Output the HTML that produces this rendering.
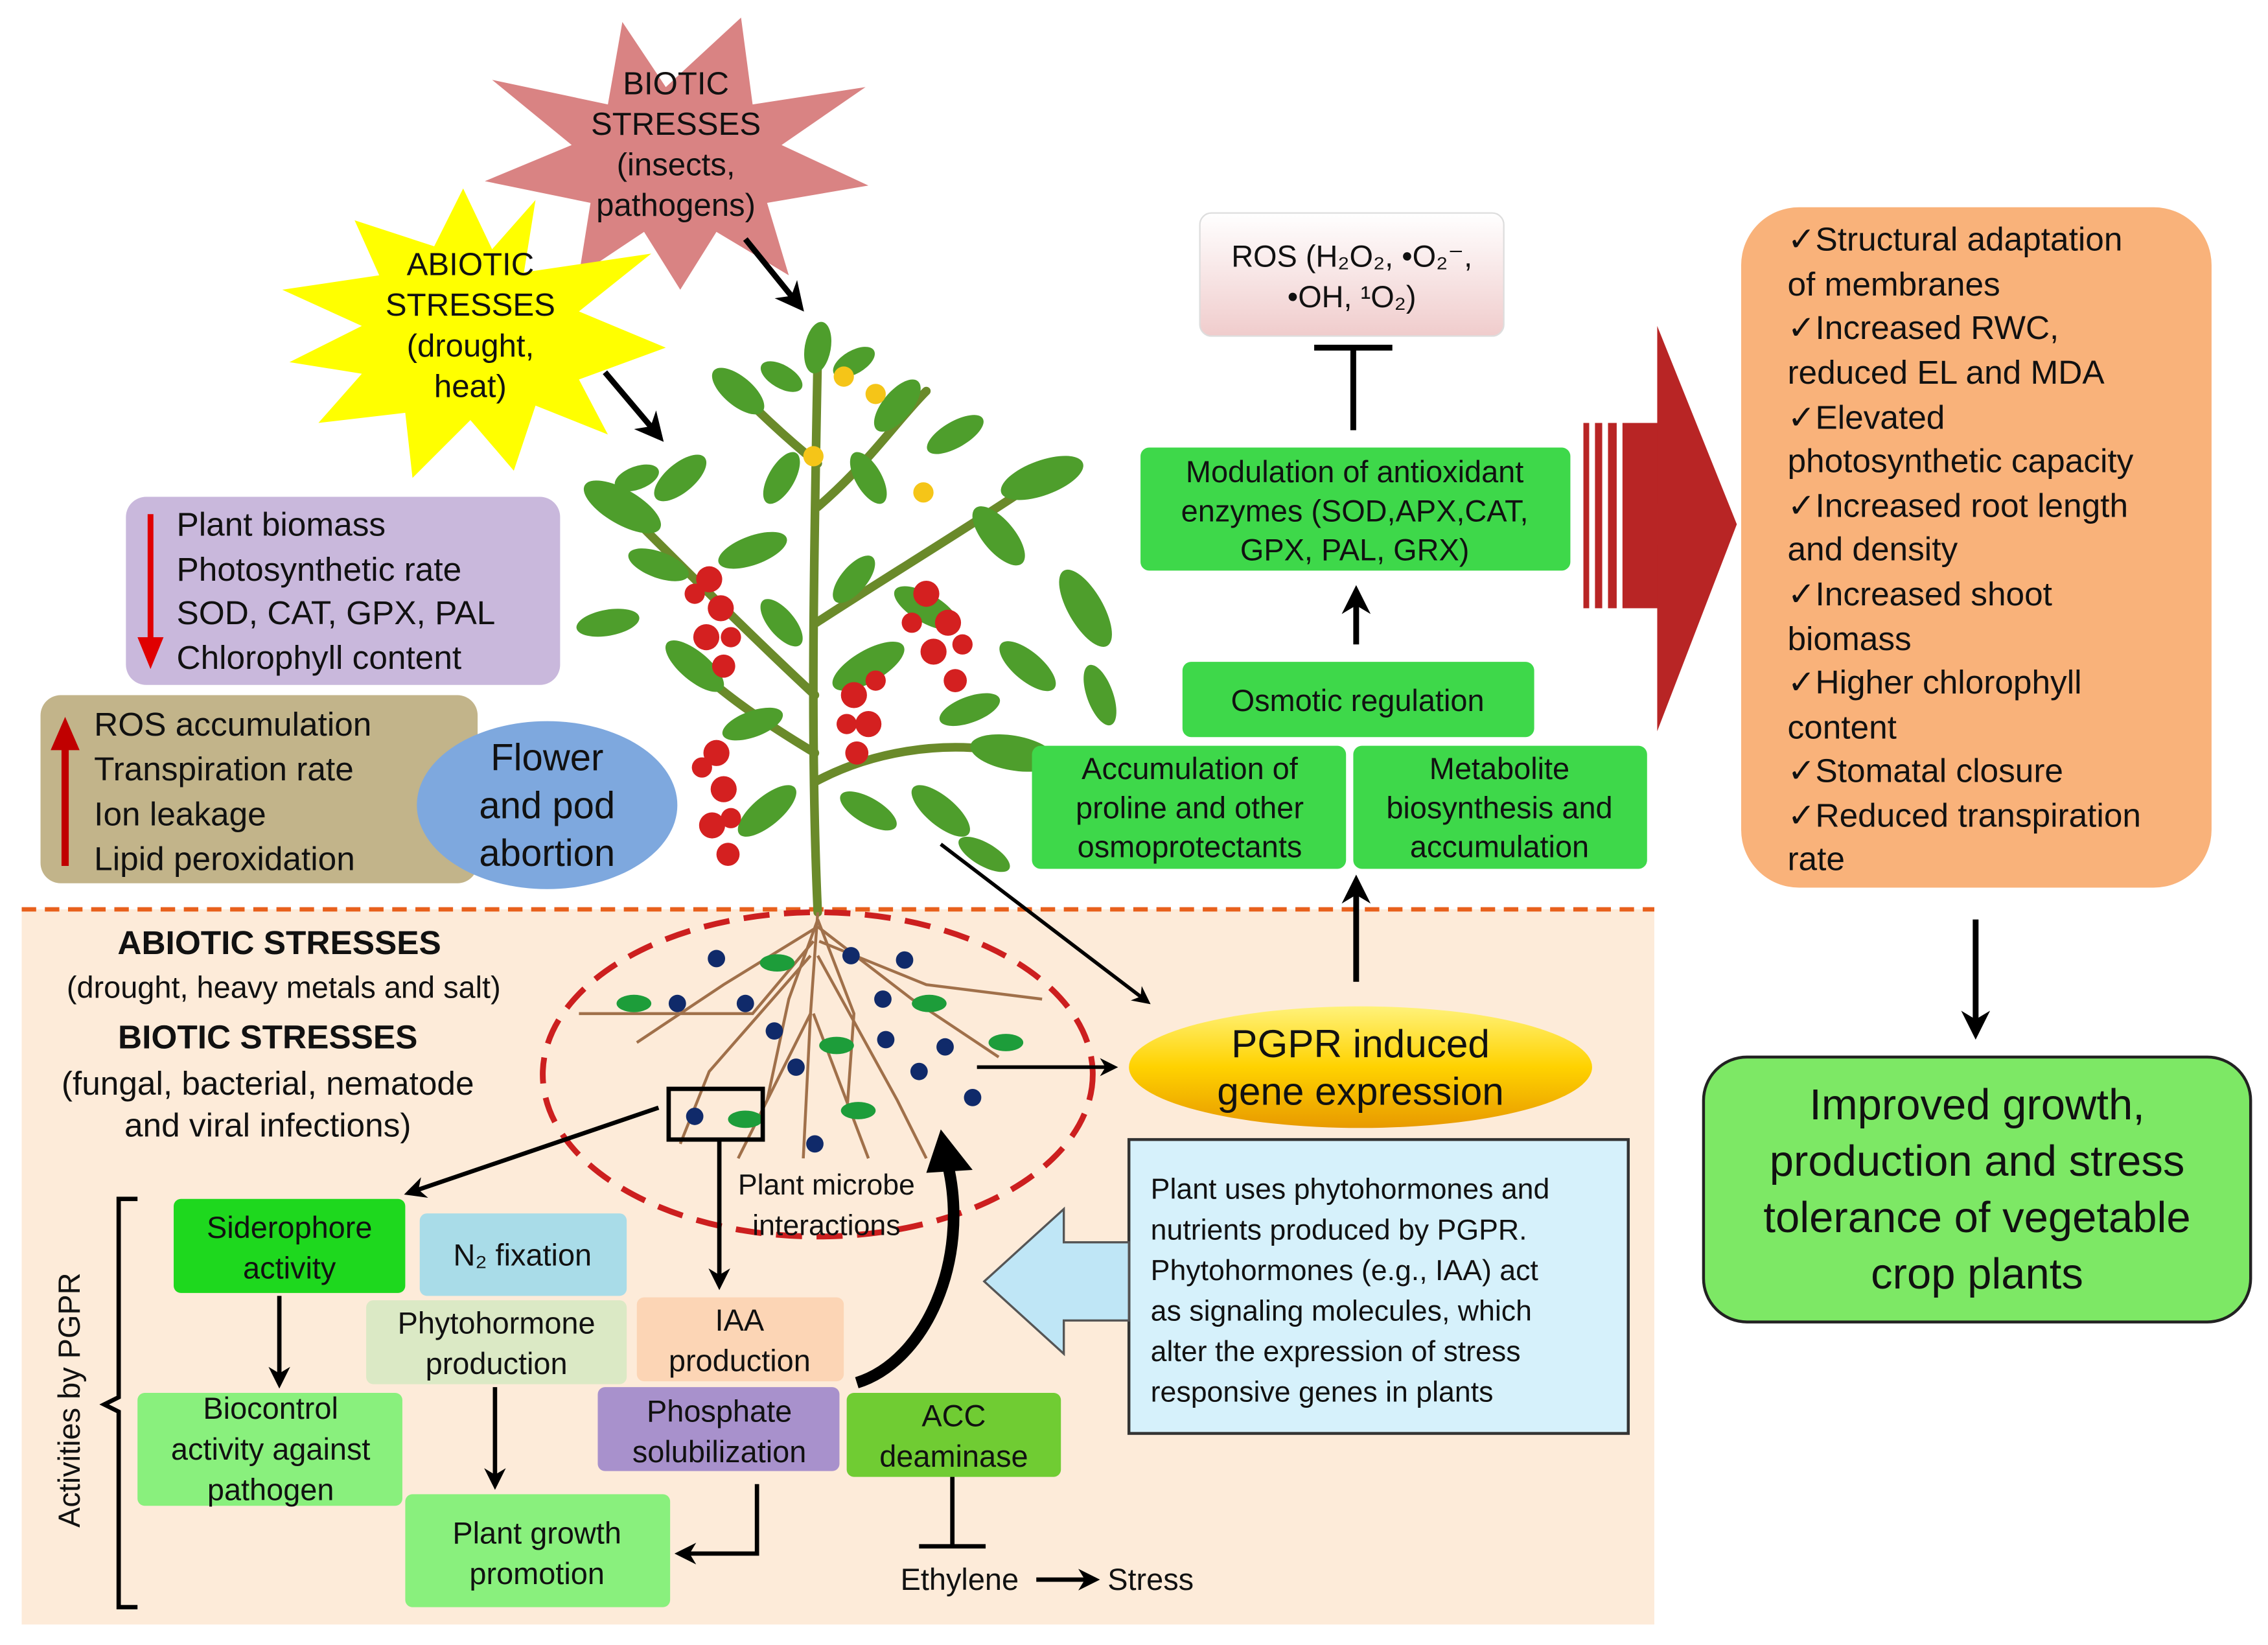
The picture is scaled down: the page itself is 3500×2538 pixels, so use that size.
<!DOCTYPE html>
<html><head><meta charset="utf-8"><style>
html,body{margin:0;padding:0;background:#fff}
svg{display:block}
text{font-family:"Liberation Sans",Arial,sans-serif;fill:#111}
</style></head><body>
<svg width="3500" height="2538" viewBox="0 0 1567 1136" xmlns="http://www.w3.org/2000/svg">
<defs>
<marker id="ah" viewBox="0 0 10 10" refX="8" refY="5" markerWidth="5" markerHeight="5" orient="auto"><path d="M0,0 L10,5 L0,10 L3,5z" fill="#000"/></marker>
<linearGradient id="yg" x1="0" y1="0" x2="0" y2="1"><stop offset="0" stop-color="#fff27a"/><stop offset="0.5" stop-color="#ffd200"/><stop offset="1" stop-color="#e89a00"/></linearGradient>
<linearGradient id="pg" x1="0" y1="0" x2="0" y2="1"><stop offset="0" stop-color="#fff"/><stop offset="1" stop-color="#f0cccc"/></linearGradient>
</defs>
<rect x="15" y="628" width="1128" height="494" fill="#fdebd9"/>
<line x1="15" y1="628" x2="1143" y2="628" stroke="#e8601c" stroke-width="3" stroke-dasharray="10,6"/>

<polygon fill="#d98383" points="512,12 520,72 598,60 540,100 600,128 530,140 545,190 495,160 470,200 445,160 400,190 408,140 335,125 395,100 340,55 420,72 430,15 460,60"/>
<text font-size="22" text-anchor="middle"><tspan x="467" y="65">BIOTIC</tspan><tspan x="467" y="93">STRESSES</tspan><tspan x="467" y="121">(insects,</tspan><tspan x="467" y="149">pathogens)</tspan></text>
<polygon fill="#ffff00" points="370,138 362,188 450,175 400,215 460,240 400,262 420,300 370,280 355,325 325,290 285,330 280,285 220,292 250,258 200,250 250,225 195,200 262,190 245,152 300,170 320,130 340,172"/>
<text font-size="22" text-anchor="middle"><tspan x="325" y="190">ABIOTIC</tspan><tspan x="325" y="218">STRESSES</tspan><tspan x="325" y="246">(drought,</tspan><tspan x="325" y="274">heat)</tspan></text>
<line x1="515" y1="165" x2="553" y2="212" stroke="#000" stroke-width="4" marker-end="url(#ah)"/>
<line x1="418" y1="257" x2="456" y2="302" stroke="#000" stroke-width="4" marker-end="url(#ah)"/>

<g stroke="#6a8a2a" stroke-width="6" fill="none" stroke-linecap="round">
<path d="M565,630 C560,520 562,400 565,245"/>
<path d="M563,480 C520,440 480,400 430,350"/>
<path d="M564,430 C610,400 660,370 720,330"/>
<path d="M563,540 C600,520 650,510 700,520"/>
<path d="M563,520 C530,500 500,480 480,460"/>
<path d="M565,350 C600,320 620,290 640,270"/>
<path d="M565,320 C540,300 520,280 510,270"/>
</g>
<g fill="#4e9e2c">
<ellipse cx="430" cy="350" rx="30" ry="12" transform="rotate(30 430 350)"/>
<ellipse cx="470" cy="330" rx="22" ry="10" transform="rotate(-40 470 330)"/>
<ellipse cx="720" cy="330" rx="30" ry="12" transform="rotate(-20 720 330)"/>
<ellipse cx="690" cy="370" rx="25" ry="11" transform="rotate(50 690 370)"/>
<ellipse cx="750" cy="420" rx="30" ry="12" transform="rotate(60 750 420)"/>
<ellipse cx="700" cy="520" rx="30" ry="12" transform="rotate(10 700 520)"/>
<ellipse cx="650" cy="560" rx="25" ry="10" transform="rotate(40 650 560)"/>
<ellipse cx="480" cy="460" rx="25" ry="10" transform="rotate(40 480 460)"/>
<ellipse cx="530" cy="560" rx="25" ry="10" transform="rotate(-40 530 560)"/>
<ellipse cx="600" cy="460" rx="28" ry="11" transform="rotate(-30 600 460)"/>
<ellipse cx="620" cy="280" rx="22" ry="10" transform="rotate(-50 620 280)"/>
<ellipse cx="510" cy="270" rx="22" ry="10" transform="rotate(40 510 270)"/>
<ellipse cx="565" cy="240" rx="18" ry="9" transform="rotate(-80 565 240)"/>
<ellipse cx="520" cy="380" rx="25" ry="10" transform="rotate(-20 520 380)"/>
<ellipse cx="640" cy="420" rx="25" ry="10" transform="rotate(30 640 420)"/>
<ellipse cx="540" cy="330" rx="20" ry="9" transform="rotate(-60 540 330)"/>
<ellipse cx="600" cy="330" rx="20" ry="9" transform="rotate(60 600 330)"/>
<ellipse cx="660" cy="300" rx="22" ry="9" transform="rotate(-30 660 300)"/>
<ellipse cx="455" cy="390" rx="22" ry="9" transform="rotate(20 455 390)"/>
<ellipse cx="420" cy="430" rx="22" ry="9" transform="rotate(-10 420 430)"/>
<ellipse cx="710" cy="460" rx="24" ry="10" transform="rotate(40 710 460)"/>
<ellipse cx="760" cy="480" rx="22" ry="9" transform="rotate(70 760 480)"/>
<ellipse cx="600" cy="560" rx="22" ry="9" transform="rotate(30 600 560)"/>
<ellipse cx="520" cy="500" rx="22" ry="9" transform="rotate(-20 520 500)"/>
<ellipse cx="680" cy="590" rx="20" ry="8" transform="rotate(30 680 590)"/>
<ellipse cx="540" cy="430" rx="20" ry="9" transform="rotate(50 540 430)"/>
<ellipse cx="590" cy="400" rx="20" ry="9" transform="rotate(-50 590 400)"/>
<ellipse cx="540" cy="260" rx="16" ry="8" transform="rotate(30 540 260)"/>
<ellipse cx="590" cy="250" rx="16" ry="8" transform="rotate(-30 590 250)"/>
<ellipse cx="670" cy="490" rx="22" ry="9" transform="rotate(-20 670 490)"/>
<ellipse cx="440" cy="330" rx="16" ry="8" transform="rotate(-20 440 330)"/>
</g>
<g fill="#d42020">
<circle cx="490" cy="400" r="9"/><circle cx="498" cy="420" r="9"/><circle cx="488" cy="440" r="9"/><circle cx="500" cy="460" r="8"/>
<circle cx="495" cy="520" r="9"/><circle cx="500" cy="545" r="9"/><circle cx="492" cy="570" r="9"/><circle cx="503" cy="590" r="8"/>
<circle cx="640" cy="410" r="9"/><circle cx="655" cy="430" r="9"/><circle cx="645" cy="450" r="9"/><circle cx="660" cy="470" r="8"/>
<circle cx="590" cy="480" r="9"/><circle cx="600" cy="500" r="9"/><circle cx="592" cy="520" r="8"/>
<circle cx="480" cy="410" r="7"/><circle cx="505" cy="440" r="7"/><circle cx="485" cy="530" r="7"/><circle cx="505" cy="565" r="7"/><circle cx="630" cy="430" r="7"/><circle cx="665" cy="445" r="7"/><circle cx="585" cy="500" r="7"/><circle cx="605" cy="470" r="7"/>
</g>
<g fill="#f5c518"><circle cx="583" cy="260" r="7"/><circle cx="605" cy="272" r="7"/><circle cx="562" cy="315" r="7"/><circle cx="638" cy="340" r="7"/></g>

<rect x="87" y="343" width="300" height="130" rx="14" fill="#c9b8dc"/>
<text font-size="23"><tspan x="122" y="370">Plant biomass</tspan><tspan x="122" y="401">Photosynthetic rate</tspan><tspan x="122" y="431">SOD, CAT, GPX, PAL</tspan><tspan x="122" y="462">Chlorophyll content</tspan></text>
<line x1="104" y1="355" x2="104" y2="445" stroke="#e00000" stroke-width="4"/><polygon points="95,440 113,440 104,462" fill="#e00000"/>
<rect x="28" y="480" width="302" height="130" rx="14" fill="#c2b48a"/>
<text font-size="23"><tspan x="65" y="508">ROS accumulation</tspan><tspan x="65" y="539">Transpiration rate</tspan><tspan x="65" y="570">Ion leakage</tspan><tspan x="65" y="601">Lipid peroxidation</tspan></text>
<line x1="45" y1="515" x2="45" y2="598" stroke="#c00000" stroke-width="5"/><polygon points="35,518 55,518 45,495" fill="#c00000"/>
<ellipse cx="378" cy="556" rx="90" ry="58" fill="#7ea8de"/>
<text font-size="26" text-anchor="middle"><tspan x="378" y="532">Flower</tspan><tspan x="378" y="565">and pod</tspan><tspan x="378" y="598">abortion</tspan></text>

<rect x="829" y="147" width="210" height="85" rx="8" fill="url(#pg)" stroke="#ddd"/>
<text font-size="21" text-anchor="middle"><tspan x="934" y="184">ROS (H₂O₂, •O₂⁻,</tspan><tspan x="934" y="212">•OH, ¹O₂)</tspan></text>
<line x1="935" y1="240" x2="935" y2="297" stroke="#000" stroke-width="4"/><line x1="908" y1="240" x2="962" y2="240" stroke="#000" stroke-width="4"/>
<rect x="788" y="309" width="297" height="85" rx="6" fill="#3ed84a"/>
<text font-size="21" text-anchor="middle"><tspan x="936" y="333">Modulation of antioxidant</tspan><tspan x="936" y="360">enzymes (SOD,APX,CAT,</tspan><tspan x="936" y="387">GPX, PAL, GRX)</tspan></text>
<line x1="937" y1="445" x2="937" y2="408" stroke="#000" stroke-width="4" marker-end="url(#ah)"/>
<rect x="817" y="457" width="243" height="52" rx="6" fill="#3ed84a"/>
<text x="938" y="491" font-size="21" text-anchor="middle">Osmotic regulation</text>
<rect x="713" y="515" width="217" height="85" rx="6" fill="#3ed84a"/>
<text font-size="21" text-anchor="middle"><tspan x="822" y="538">Accumulation of</tspan><tspan x="822" y="565">proline and other</tspan><tspan x="822" y="592">osmoprotectants</tspan></text>
<rect x="935" y="515" width="203" height="85" rx="6" fill="#3ed84a"/>
<text font-size="21" text-anchor="middle"><tspan x="1036" y="538">Metabolite</tspan><tspan x="1036" y="565">biosynthesis and</tspan><tspan x="1036" y="592">accumulation</tspan></text>
<line x1="937" y1="678" x2="937" y2="608" stroke="#000" stroke-width="4" marker-end="url(#ah)"/>

<g fill="#b82525"><rect x="1094" y="292" width="4" height="128"/><rect x="1102" y="292" width="5" height="128"/><rect x="1111" y="292" width="6" height="128"/><rect x="1121" y="292" width="26" height="128"/><polygon points="1145,225 1200,362 1145,505"/></g>

<rect x="1203" y="143" width="325" height="470" rx="40" fill="#f9b27a"/>
<text font-size="23"><tspan x="1235" y="173">✓Structural adaptation</tspan><tspan x="1235" y="204">of membranes</tspan><tspan x="1235" y="234">✓Increased  RWC,</tspan><tspan x="1235" y="265">reduced EL and MDA</tspan><tspan x="1235" y="296">✓Elevated</tspan><tspan x="1235" y="326">photosynthetic capacity</tspan><tspan x="1235" y="357">✓Increased root length</tspan><tspan x="1235" y="387">and density</tspan><tspan x="1235" y="418">✓Increased shoot</tspan><tspan x="1235" y="449">biomass</tspan><tspan x="1235" y="479">✓Higher chlorophyll</tspan><tspan x="1235" y="510">content</tspan><tspan x="1235" y="540">✓Stomatal closure</tspan><tspan x="1235" y="571">✓Reduced transpiration</tspan><tspan x="1235" y="601">rate</tspan></text>
<line x1="1365" y1="635" x2="1365" y2="714" stroke="#000" stroke-width="4" marker-end="url(#ah)"/>
<rect x="1177" y="730" width="378" height="183" rx="30" fill="#7de865" stroke="#222" stroke-width="2"/>
<text font-size="30" text-anchor="middle"><tspan x="1366" y="773">Improved growth,</tspan><tspan x="1366" y="812">production and stress</tspan><tspan x="1366" y="851">tolerance of vegetable</tspan><tspan x="1366" y="890">crop plants</tspan></text>

<text x="193" y="659" font-size="23" font-weight="bold" text-anchor="middle">ABIOTIC STRESSES</text>
<text x="196" y="689" font-size="21" text-anchor="middle">(drought, heavy metals and salt)</text>
<text x="185" y="724" font-size="23" font-weight="bold" text-anchor="middle">BIOTIC STRESSES</text>
<text font-size="23" text-anchor="middle"><tspan x="185" y="756">(fungal, bacterial, nematode</tspan><tspan x="185" y="785">and viral infections)</tspan></text>

<g stroke="#a0704a" stroke-width="2" fill="none">
<path d="M565,630 L560,700 L555,800"/><path d="M565,640 L500,680 L440,720"/><path d="M565,640 L630,690 L690,730"/><path d="M560,660 L490,740 L470,790"/><path d="M565,660 L620,760 L640,800"/><path d="M562,650 L520,700 L400,700"/><path d="M566,650 L640,680 L720,690"/><path d="M560,700 L510,800"/><path d="M562,700 L600,800"/><path d="M565,635 L545,690 L530,760"/><path d="M565,635 L590,700 L585,770"/>
</g>
<ellipse cx="565" cy="742" rx="190" ry="112" fill="none" stroke="#cc1f1f" stroke-width="4" stroke-dasharray="18,10"/>
<g fill="#1d9d3a"><ellipse cx="537" cy="665" rx="12" ry="6"/><ellipse cx="438" cy="693" rx="12" ry="6"/><ellipse cx="642" cy="693" rx="12" ry="6"/><ellipse cx="695" cy="720" rx="12" ry="6"/><ellipse cx="578" cy="722" rx="12" ry="6"/><ellipse cx="515" cy="773" rx="12" ry="6"/><ellipse cx="593" cy="767" rx="12" ry="6"/></g>
<g fill="#102a6a"><circle cx="495" cy="662" r="6"/><circle cx="588" cy="660" r="6"/><circle cx="625" cy="663" r="6"/><circle cx="468" cy="693" r="6"/><circle cx="515" cy="693" r="6"/><circle cx="610" cy="690" r="6"/><circle cx="535" cy="712" r="6"/><circle cx="612" cy="718" r="6"/><circle cx="653" cy="723" r="6"/><circle cx="550" cy="737" r="6"/><circle cx="635" cy="740" r="6"/><circle cx="480" cy="771" r="6"/><circle cx="672" cy="758" r="6"/><circle cx="563" cy="790" r="6"/></g>
<rect x="462" y="752" width="65" height="35" fill="none" stroke="#000" stroke-width="3"/>
<text font-size="20" text-anchor="middle"><tspan x="571" y="825">Plant microbe</tspan><tspan x="571" y="853">interactions</tspan></text>

<ellipse cx="940" cy="737" rx="160" ry="42" fill="url(#yg)"/>
<text font-size="27" text-anchor="middle"><tspan x="940" y="730">PGPR induced</tspan><tspan x="940" y="763">gene expression</tspan></text>
<line x1="650" y1="583" x2="793" y2="692" stroke="#000" stroke-width="2.5" marker-end="url(#ah)"/>
<line x1="675" y1="737" x2="770" y2="737" stroke="#000" stroke-width="2.5" marker-end="url(#ah)"/>
<line x1="455" y1="765" x2="282" y2="824" stroke="#000" stroke-width="3" marker-end="url(#ah)"/>
<line x1="497" y1="787" x2="497" y2="888" stroke="#000" stroke-width="3" marker-end="url(#ah)"/>
<path d="M592,955 C640,940 670,870 655,805" fill="none" stroke="#000" stroke-width="8"/>
<polygon points="640,810 650,780 672,808" fill="#000"/>

<rect x="780" y="787" width="345" height="203" fill="#d6f1fb" stroke="#333" stroke-width="2"/>
<text font-size="20"><tspan x="795" y="828">Plant uses phytohormones and</tspan><tspan x="795" y="856">nutrients produced by PGPR.</tspan><tspan x="795" y="884">Phytohormones (e.g., IAA) act</tspan><tspan x="795" y="912">as signaling molecules, which</tspan><tspan x="795" y="940">alter the expression of stress</tspan><tspan x="795" y="968">responsive genes in plants</tspan></text>
<polygon points="680,885 735,835 735,858 780,858 780,912 735,912 735,935" fill="#bfe6f6" stroke="#555" stroke-width="1.5"/>

<rect x="120" y="828" width="160" height="65" rx="5" fill="#1ed81e"/>
<text font-size="21" text-anchor="middle"><tspan x="200" y="855">Siderophore</tspan><tspan x="200" y="883">activity</tspan></text>
<rect x="290" y="838" width="143" height="57" rx="5" fill="#a9dce8"/>
<text x="361" y="874" font-size="21" text-anchor="middle">N₂ fixation</text>
<rect x="253" y="898" width="180" height="58" rx="5" fill="#dbe9c5"/>
<text font-size="21" text-anchor="middle"><tspan x="343" y="921">Phytohormone</tspan><tspan x="343" y="949">production</tspan></text>
<rect x="440" y="896" width="143" height="58" rx="5" fill="#fcd5b5"/>
<text font-size="21" text-anchor="middle"><tspan x="511" y="919">IAA</tspan><tspan x="511" y="947">production</tspan></text>
<rect x="95" y="962" width="183" height="78" rx="5" fill="#89f07d"/>
<text font-size="21" text-anchor="middle"><tspan x="187" y="980">Biocontrol</tspan><tspan x="187" y="1008">activity against</tspan><tspan x="187" y="1036">pathogen</tspan></text>
<rect x="413" y="958" width="167" height="58" rx="5" fill="#a891cc"/>
<text font-size="21" text-anchor="middle"><tspan x="497" y="982">Phosphate</tspan><tspan x="497" y="1010">solubilization</tspan></text>
<rect x="585" y="962" width="148" height="58" rx="5" fill="#70cc33"/>
<text font-size="21" text-anchor="middle"><tspan x="659" y="985">ACC</tspan><tspan x="659" y="1013">deaminase</tspan></text>
<rect x="280" y="1032" width="183" height="78" rx="5" fill="#89f07d"/>
<text font-size="21" text-anchor="middle"><tspan x="371" y="1066">Plant growth</tspan><tspan x="371" y="1094">promotion</tspan></text>
<line x1="193" y1="895" x2="193" y2="956" stroke="#000" stroke-width="3" marker-end="url(#ah)"/>
<line x1="342" y1="958" x2="342" y2="1026" stroke="#000" stroke-width="3" marker-end="url(#ah)"/>
<polyline points="523,1025 523,1073 469,1073" fill="none" stroke="#000" stroke-width="3" marker-end="url(#ah)"/>
<line x1="658" y1="1020" x2="658" y2="1068" stroke="#000" stroke-width="3"/><line x1="635" y1="1068" x2="681" y2="1068" stroke="#000" stroke-width="3"/>
<text x="663" y="1098" font-size="21" text-anchor="middle">Ethylene</text>
<line x1="716" y1="1091" x2="757" y2="1091" stroke="#000" stroke-width="3" marker-end="url(#ah)"/>
<text x="795" y="1098" font-size="21" text-anchor="middle">Stress</text>
<path d="M95,828 L82,828 L82,965 L72,970 L82,975 L82,1110 L95,1110" fill="none" stroke="#000" stroke-width="3"/>
<text x="0" y="0" font-size="21" text-anchor="middle" transform="translate(55,967) rotate(-90)">Activities by PGPR</text>
</svg>
</body></html>
